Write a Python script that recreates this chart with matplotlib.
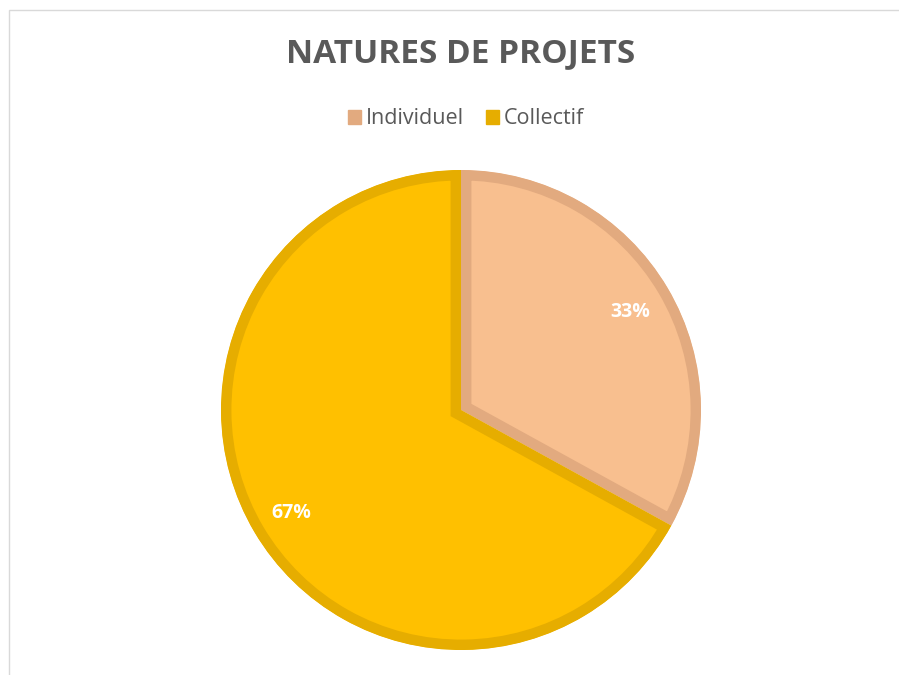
import matplotlib
matplotlib.use("Agg")
import matplotlib.pyplot as plt
import numpy as np
from matplotlib.patches import Patch, Rectangle

title = "NATURES DE PROJETS"
categories = ["Individuel", "Collectif"]
values = [33, 67]
fill_colors = ["#F8BF8F", "#FFC000"]
edge_colors = ["#E2AA7F", "#E6AD00"]
label_text = ["33%", "67%"]

W, H = 899, 675
fig = plt.figure(figsize=(W / 100, H / 100), dpi=100)
fig.patch.set_facecolor("white")

# outer light border (top and left visible)
fig.add_artist(Rectangle((8.5 / W, -0.05), 1.2, (H - 9.5) / H + 0.05,
                         transform=fig.transFigure, fill=False,
                         edgecolor="#D9D9D9", linewidth=1.0))

ax = fig.add_axes([0, 0, 1, 1])
cx, cy, r = 461, H - 410, 240
wedges, texts = ax.pie(values, colors=fill_colors, startangle=90, counterclock=False,
                       center=(cx, cy), radius=r, frame=True)
ax.set_xlim(0, W)
ax.set_ylim(0, H)
ax.set_aspect("equal")
ax.axis("off")

for w, ec in zip(wedges, edge_colors):
    w.set_edgecolor(ec)
    w.set_linewidth(15)
    w.set_joinstyle("miter")
    w.set_clip_on(True)
    w.set_clip_path(w.get_path(), w.get_transform())

for w, t in zip(wedges, label_text):
    ang = np.deg2rad((w.theta1 + w.theta2) / 2)
    ax.text(cx + 0.82 * r * np.cos(ang), cy + 0.82 * r * np.sin(ang), t,
            ha="center", va="center_baseline", color="white", fontsize=14,
            fontweight="bold", family="Open Sans")

fig.text(461 / W, 1 - 54 / H, title, ha="center", va="center", fontsize=24,
         fontweight="bold", color="#595959", family="Open Sans")

handles = [Patch(facecolor=ec, edgecolor=ec) for ec in edge_colors]
leg = fig.legend(handles, categories, loc="center", bbox_to_anchor=(466 / W, 1 - 119 / H),
                 ncol=2, frameon=False, handlelength=0.6, handleheight=0.6,
                 handletextpad=0.25, columnspacing=1.0,
                 prop={"family": "Open Sans", "size": 15.5})
for t in leg.get_texts():
    t.set_color("#595959")

fig.savefig("out.png", dpi=100, facecolor="white")
